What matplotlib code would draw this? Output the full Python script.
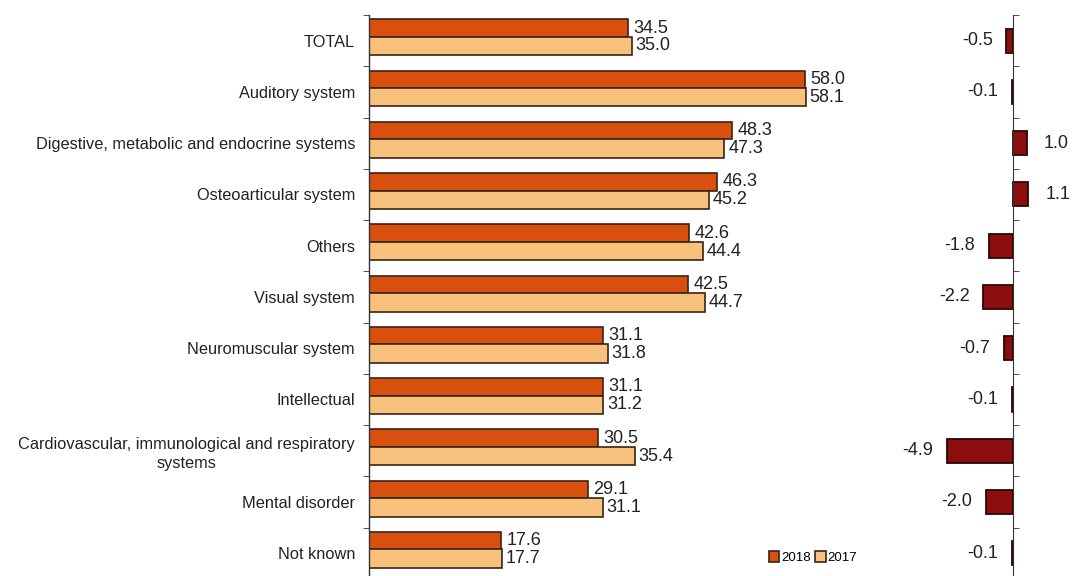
import matplotlib

matplotlib.use("Agg")

import matplotlib.pyplot as plt
import numpy as np

plt.rcParams["font.family"] = ["Liberation Sans", "DejaVu Sans"]

categories = [
    "TOTAL",
    "Auditory system",
    "Digestive, metabolic and endocrine systems",
    "Osteoarticular system",
    "Others",
    "Visual system",
    "Neuromuscular system",
    "Intellectual",
    "Cardiovascular, immunological and respiratory\nsystems",
    "Mental disorder",
    "Not known",
]
values_2018 = [34.5, 58.0, 48.3, 46.3, 42.6, 42.5, 31.1, 31.1, 30.5, 29.1, 17.6]
values_2017 = [35.0, 58.1, 47.3, 45.2, 44.4, 44.7, 31.8, 31.2, 35.4, 31.1, 17.7]
differences = [-0.5, -0.1, 1.0, 1.1, -1.8, -2.2, -0.7, -0.1, -4.9, -2.0, -0.1]

COLOR_2018 = "#d9500e"
COLOR_2017 = "#f8c27d"
COLOR_DIFF = "#8c0d0d"
EDGE = "#3a2416"

fig = plt.figure(figsize=(10.72, 5.76), dpi=100)
n = len(categories)
pos = np.arange(n)

# left panel: values by year
ax = fig.add_axes([369 / 1072, -0.005, 526 / 1072, 0.979])
ax.barh(pos - 0.245, values_2018, height=0.34, color=COLOR_2018,
        edgecolor=EDGE, linewidth=1.2, label="2018")
ax.barh(pos + 0.105, values_2017, height=0.36, color=COLOR_2017,
        edgecolor=EDGE, linewidth=1.2, label="2017")
for i in range(n):
    ax.text(values_2018[i] + 0.7, pos[i] - 0.245, f"{values_2018[i]:.1f}",
            va="center", ha="left", fontsize=13, color="#222222")
    ax.text(values_2017[i] + 0.5, pos[i] + 0.105, f"{values_2017[i]:.1f}",
            va="center", ha="left", fontsize=13, color="#222222")
ax.set_xlim(0, 70)
ax.set_ylim(n - 0.5, -0.5)
ax.set_yticks(pos)
ax.set_yticklabels(categories, fontsize=11.8, color="#222222", linespacing=1.35)
for lbl in ax.get_yticklabels():
    lbl.set_multialignment("center")
ax.tick_params(axis="y", which="major", length=0, pad=10)
ax.set_yticks(np.arange(-0.5, n, 1.0), minor=True)
ax.tick_params(axis="y", which="minor", length=4, direction="out", color="#333333")
ax.set_xticks([])
for side in ("top", "right", "bottom"):
    ax.spines[side].set_visible(False)
ax.spines["left"].set_color("#333333")
ax.spines["left"].set_linewidth(1.0)
ax.legend(loc="lower left", bbox_to_anchor=(757 / 1072, 0.0), bbox_transform=fig.transFigure,
          ncol=2, frameon=False, fontsize=9.5, handlelength=0.8, handleheight=0.8,
          handletextpad=0.15, columnspacing=0.3)

# right panel: difference
ax2 = fig.add_axes([930 / 1072, -0.005, 130 / 1072, 0.979])
ax2.barh(pos, differences, height=0.47, color=COLOR_DIFF, edgecolor="#2a0505", linewidth=1.3)
for i in range(n):
    d = differences[i]
    if d < 0:
        ax2.text(d - 1.0, pos[i], f"{d:.1f}", va="center", ha="right",
                 fontsize=13, color="#222222")
    else:
        ax2.text(d + 1.3, pos[i], f"{d:.1f}", va="center", ha="left",
                 fontsize=13, color="#222222")
ax2.set_xlim(-6.15, 3.48)
ax2.set_ylim(n - 0.5, -0.5)
ax2.set_yticks([])
ax2.set_yticks(np.arange(-0.5, n, 1.0), minor=True)
ax2.tick_params(axis="y", which="minor", length=4, direction="in", color="#333333")
ax2.set_xticks([])
for side in ("top", "right", "bottom"):
    ax2.spines[side].set_visible(False)
ax2.spines["left"].set_position(("data", 0))
ax2.spines["left"].set_color("#333333")
ax2.patch.set_visible(False)

fig.savefig("out.png", dpi=100)
